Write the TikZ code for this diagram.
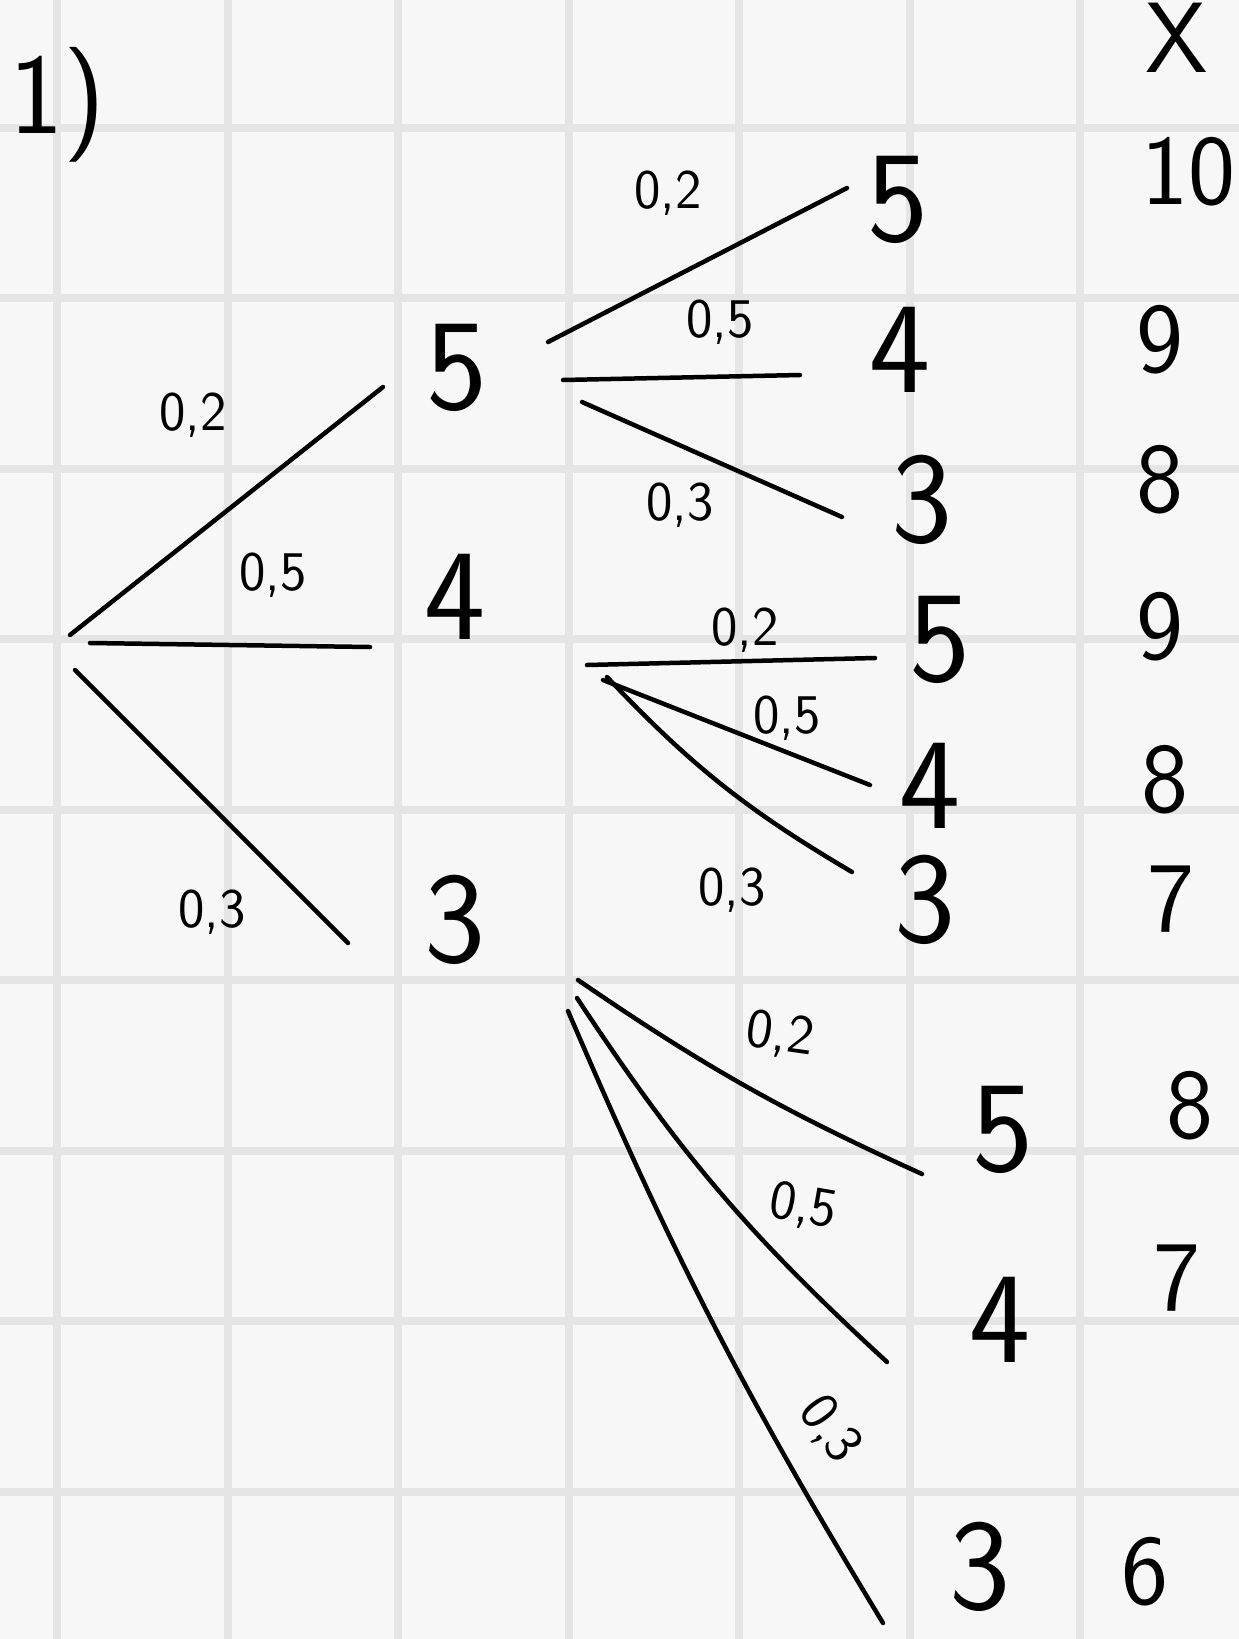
\documentclass[tikz,border=0pt]{standalone}
\usetikzlibrary{calc}

\begin{document}
\begin{tikzpicture}[
    x=1pt, y=-1pt, % pixel-like units, y runs downwards
    % Paper look
    paper/.style  = {fill=black!3, draw=none},
    gridln/.style = {draw=black!10, line width=8pt},
    % Handwritten values and probabilities
    val/.style    = {inner sep=0pt, font=\sffamily\fontsize{130}{130}\selectfont},
    outc/.style   = {inner sep=0pt, font=\sffamily\fontsize{100}{100}\selectfont},
    prob/.style   = {inner sep=0pt, font=\sffamily\fontsize{56}{56}\selectfont},
    branch/.style = {line width=4.5pt, line cap=round, line join=round}
  ]
  \useasboundingbox (0,0) rectangle (1239,1639);
  \fill[paper] (0,0) rectangle (1239,1639);

  % ===== Squared paper =====
  \foreach \i in {0,...,6}{
    \draw[gridln] (57+170.5*\i,0) -- (57+170.5*\i,1639);
  }
  \foreach \j in {0,...,8}{
    \draw[gridln] (0,127.5+170.5*\j) -- (1239,127.5+170.5*\j);
  }

  % ===== Tree =====
  \node[val, font=\sffamily\fontsize{115}{115}\selectfont] (task) at (58,105) {1)};
  \coordinate (r) at (75,645);

  % First stage
  \node[val] (a5) at (457,368) {5};
  \node[val] (a4) at (455,597) {4};
  \node[val] (a3) at (455,920) {3};

  % Second stage
  \foreach \p/\v/\x/\y in {5/5/898/200, 5/4/900/350, 5/3/922/500,
                          4/5/940/640, 4/4/930/786, 4/3/925/900,
                          3/5/1003/1130, 3/4/1000/1320, 3/3/980/1567}{
    \node[val] (b\p\v) at (\x,\y) {\v};
  }

  % Branches from the root
  \foreach \c/\sx/\sy/\tx/\ty in {a5/-5/-10/-74/19, a4/15/-2/-85/50, a3/0/25/-107/23}{
    \draw[branch] ($(r)+(\sx,\sy)$) -- ($(\c)+(\tx,\ty)$);
  }

  % Branches of the second stage
  \foreach \p/\v/\sx/\sy/\tx/\ty/\b in {5/5/91/-26/-51/-12/0, 5/4/106/12/-100/25/0, 5/3/125/34/-80/17/0,
                                        4/5/132/68/-65/18/0, 4/4/148/83/-60/-1/0, 4/3/152/80/-73/-28/8,
                                        3/5/123/60/-81/44/5, 3/4/122/78/-113/42/7, 3/3/113/91/-97/56/4}{
    \draw[branch] ($(a\p)+(\sx,\sy)$) to[bend right=\b] ($(b\p\v)+(\tx,\ty)$);
  }

  % Probabilities
  \foreach \n/\t/\x/\y/\rot in {p1/{0,2}/193/415/0, p2/{0,5}/273/575/0, p3/{0,3}/212/912/0,
                               p55/{0,2}/668/193/0, p54/{0,5}/720/322/0, p53/{0,3}/680/505/0,
                               p45/{0,2}/745/630/0, p44/{0,5}/787/718/0, p43/{0,3}/732/890/0,
                               p35/{0,2}/780/1035/-8, p34/{0,5}/803/1207/-10, p33/{0,3}/830/1430/-54}{
    \node[prob, rotate=\rot] (\n) at (\x,\y) {\t};
  }

  % ===== Column X =====
  \node[outc] (xh) at (1177,38) {X};
  \foreach \n/\s/\x/\y in {55/10/1188/172, 54/9/1160/340, 53/8/1160/480,
                          45/9/1160/627, 44/8/1165/780, 43/7/1171/899,
                          35/8/1190/1106, 34/7/1177/1278, 33/6/1145/1572}{
    \node[outc] (x\n) at (\x,\y) {\s};
  }
\end{tikzpicture}
\end{document}
